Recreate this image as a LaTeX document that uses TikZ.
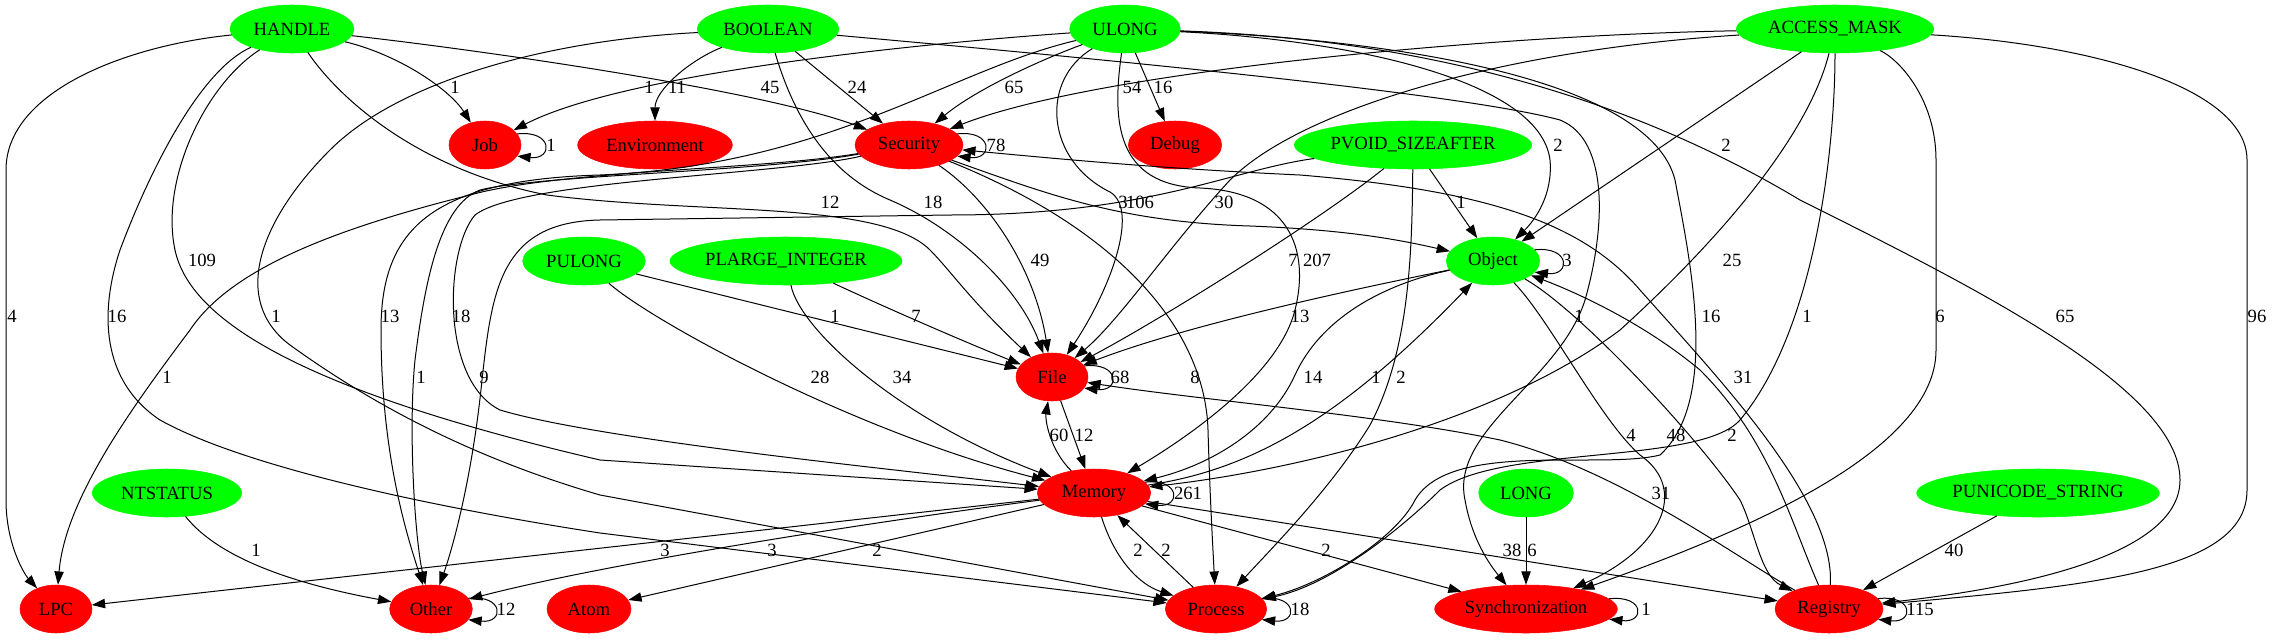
\documentclass[tikz,border=0pt]{standalone}
\usepackage{fontspec}
\setmainfont{Liberation Serif}
\usetikzlibrary{shapes.geometric,arrows.meta}
\definecolor{gvgreen}{RGB}{0,255,0}
\definecolor{gvred}{RGB}{255,0,0}
\begin{document}
\begin{tikzpicture}[x=0.75pt,y=-0.75pt,
  font=\fontsize{14}{16}\selectfont,
  argtype/.style={ellipse,inner sep=0pt,fill=gvgreen,draw=gvgreen,minimum height=36pt,minimum width=#1},
  apicat/.style={ellipse,inner sep=0pt,fill=gvred,draw=gvred,minimum height=36pt,minimum width=#1},
  call/.style={-{Triangle[length=10pt,width=7pt]},line width=0.75pt},
  num/.style={inner sep=0pt}]
\useasboundingbox (0,0) rectangle (2272,639);

%Argument types
\node[argtype=93pt]  (HANDLE)   at (292,29)   {HANDLE};
\node[argtype=106pt] (BOOLEAN)  at (768,29)   {BOOLEAN};
\node[argtype=83pt]  (ULONG)    at (1125,29)  {ULONG};
\node[argtype=148pt] (ACCESS)   at (1835,29)  {ACCESS\_MASK};
\node[argtype=178pt] (PVOID)    at (1413,145) {PVOID\_SIZEAFTER};
\node[argtype=92pt]  (PULONG)   at (584,261)  {PULONG};
\node[argtype=174pt] (PLARGE)   at (786,261)  {PLARGE\_INTEGER};
\node[argtype=70pt]  (Object)   at (1493,261) {Object};
\node[argtype=112pt] (NTSTATUS) at (167,493)  {NTSTATUS};
\node[argtype=71pt]  (LONG)     at (1526,493) {LONG};
\node[argtype=182pt] (PUNICODE) at (2038,493) {PUNICODE\_STRING};

%API groups
\node[apicat=54pt]  (Job)             at (485,145)  {Job};
\node[apicat=116pt] (Environment)     at (655,145)  {Environment};
\node[apicat=81pt]  (Security)        at (909,145)  {Security};
\node[apicat=70pt]  (Debug)           at (1175,145) {Debug};
\node[apicat=54pt]  (File)            at (1052,377) {File};
\node[apicat=85pt]  (Memory)          at (1094,493) {Memory};
\node[apicat=54pt]  (LPC)             at (56,609)   {LPC};
\node[apicat=62pt]  (Other)           at (431,609)  {Other};
\node[apicat=63pt]  (Atom)            at (589,609)  {Atom};
\node[apicat=76pt]  (Process)         at (1216,609) {Process};
\node[apicat=137pt] (Synchronization) at (1526,609) {Synchronization};
\node[apicat=81pt]  (Registry)        at (1829,609) {Registry};

%HANDLE
\draw[call] (HANDLE) .. controls (400,55) and (450,90) .. (Job);
\draw[call] (HANDLE) .. controls (480,50) and (760,90) .. (Security);
\draw[call] (HANDLE) .. controls (130,45) and (6,90) .. (6,170) -- (6,500) .. controls (6,545) and (25,575) .. (LPC);
\draw[call] (HANDLE) .. controls (200,70) and (150,170) .. (120,250) .. controls (100,310) and (100,380) .. (160,420) .. controls (250,470) and (450,510) .. (600,533) -- (Process);
\draw[call] (HANDLE) .. controls (205,85) and (160,180) .. (175,250) .. controls (190,320) and (300,390) .. (600,460) -- (Memory);
\draw[call] (HANDLE) .. controls (340,100) and (420,170) .. (547,195) .. controls (700,215) and (880,200) .. (930,250) .. controls (950,270) and (970,300) .. (File);

%BOOLEAN
\draw[call] (BOOLEAN) .. controls (690,60) and (655,90) .. (Environment);
\draw[call] (BOOLEAN) -- (Security);
\draw[call] (BOOLEAN) .. controls (795,120) and (830,175) .. (890,200) .. controls (960,230) and (1020,290) .. (File);
\draw[call] (BOOLEAN) .. controls (550,40) and (400,80) .. (330,150) .. controls (260,220) and (230,300) .. (290,345) .. controls (380,410) and (480,460) .. (600,495) -- (Process);
\draw[call] (BOOLEAN) .. controls (1000,50) and (1450,90) .. (1560,120) .. controls (1610,140) and (1605,230) .. (1585,300) .. controls (1560,380) and (1450,430) .. (1465,500) .. controls (1472,540) and (1490,565) .. (Synchronization);

%ULONG
\draw[call] (ULONG) .. controls (900,45) and (620,75) .. (Job);
\draw[call] (ULONG) .. controls (1040,60) and (975,90) .. (Security);
\draw[call] (ULONG) -- (Debug);
\draw[call] (ULONG) .. controls (950,70) and (830,165) .. (600,175) .. controls (430,180) and (381,230) .. (381,330) .. controls (381,450) and (405,530) .. (Other);
\draw[call] (ULONG) .. controls (1350,40) and (1540,80) .. (1550,160) .. controls (1553,195) and (1535,220) .. (Object);
\draw[call] (ULONG) .. controls (1400,40) and (1650,80) .. (1675,180) .. controls (1690,260) and (1720,400) .. (1660,455) .. controls (1600,470) and (1450,440) .. (1415,500) .. controls (1395,540) and (1320,585) .. (Process);
\draw[call] (ULONG) .. controls (1450,40) and (1650,110) .. (1800,200) .. controls (1980,290) and (2180,390) .. (2180,480) .. controls (2180,560) and (2000,590) .. (Registry);
\draw[call] (ULONG) .. controls (1112,120) and (1115,185) .. (1200,188) .. controls (1290,192) and (1310,250) .. (1295,310) .. controls (1280,370) and (1200,430) .. (Memory);
\draw[call] (ULONG) .. controls (1040,80) and (1045,160) .. (1110,192) .. controls (1140,210) and (1110,290) .. (File);

%ACCESS_MASK
\draw[call] (ACCESS) .. controls (1500,35) and (1100,70) .. (Security);
\draw[call] (ACCESS) .. controls (1500,50) and (1300,110) .. (1230,180) .. controls (1170,245) and (1120,320) .. (File);
\draw[call] (ACCESS) -- (Object);
\draw[call] (ACCESS) .. controls (1810,130) and (1730,230) .. (1620,330) .. controls (1500,420) and (1300,470) .. (Memory);
\draw[call] (ACCESS) .. controls (1835,150) and (1815,330) .. (1740,420) .. controls (1700,465) and (1500,445) .. (1440,490) .. controls (1400,530) and (1330,585) .. (Process);
\draw[call] (ACCESS) .. controls (1900,60) and (1936,100) .. (1936,160) -- (1936,350) .. controls (1936,450) and (1750,530) .. (Synchronization);
\draw[call] (ACCESS) .. controls (2100,45) and (2247,90) .. (2247,160) -- (2247,490) .. controls (2247,570) and (2100,585) .. (Registry);

%PVOID_SIZEAFTER
\draw[call] (PVOID) -- (Object);
\draw[call] (PVOID) .. controls (1320,220) and (1160,320) .. (File);
\draw[call] (PVOID) .. controls (1412,250) and (1410,350) .. (1370,425) .. controls (1330,490) and (1270,550) .. (Process);
\draw[call] (PVOID) .. controls (1230,170) and (1150,215) .. (950,215) -- (600,220) .. controls (500,222) and (492,290) .. (482,380) .. controls (472,480) and (452,550) .. (Other);

%Security
\draw[call] (Security) .. controls (990,200) and (1035,270) .. (File);
\draw[call] (Security) .. controls (1120,230) and (1205,330) .. (1208,430) .. controls (1210,500) and (1213,550) .. (Process);
\draw[call] (Security) .. controls (1050,195) and (1120,222) .. (1250,226) .. controls (1350,230) and (1400,240) .. (Object);
\draw[call] (Security) .. controls (760,172) and (540,175) .. (480,190) .. controls (440,205) and (425,280) .. (415,360) .. controls (408,430) and (415,540) .. (Other);
\draw[call] (Security) .. controls (780,175) and (520,180) .. (475,215) .. controls (445,250) and (440,380) .. (500,410) .. controls (600,440) and (900,470) .. (Memory);
\draw[call] (Security) .. controls (760,170) and (560,170) .. (470,195) .. controls (330,230) and (230,270) .. (190,330) .. controls (130,410) and (65,500) .. (LPC);

%File, Object, Registry
\draw[call] (File) -- (Memory);
\draw[call] (Memory) .. controls (1050,450) and (1045,420) .. (File);
\draw[call] (Object) .. controls (1400,280) and (1200,320) .. (File);
\draw[call] (Object) .. controls (1380,285) and (1320,320) .. (1295,375) .. controls (1270,430) and (1210,465) .. (Memory);
\draw[call] (Memory) .. controls (1250,470) and (1340,420) .. (Object);
\draw[call] (Object) .. controls (1550,320) and (1600,420) .. (1640,455) .. controls (1690,490) and (1660,550) .. (Synchronization);
\draw[call] (Object) .. controls (1580,310) and (1700,440) .. (1740,500) .. controls (1755,530) and (1760,575) .. (Registry);
\draw[call] (Registry) .. controls (1790,520) and (1770,440) .. (1700,370) .. controls (1640,320) and (1570,290) .. (Object);
\draw[call] (Registry) .. controls (1740,560) and (1620,470) .. (1500,440) .. controls (1380,415) and (1200,400) .. (File);
\draw[call] (Registry) .. controls (1835,500) and (1720,380) .. (1640,290) .. controls (1580,220) and (1480,190) .. (1300,175) .. controls (1150,168) and (1050,158) .. (Security);

%Memory
\draw[call] (Memory) -- (LPC);
\draw[call] (Memory) .. controls (850,525) and (600,565) .. (Other);
\draw[call] (Memory) -- (Atom);
\draw[call] (Memory) .. controls (1115,560) and (1140,585) .. (Process);
\draw[call] (Process) -- (Memory);
\draw[call] (Memory) -- (Synchronization);
\draw[call] (Memory) -- (Registry);

%Other types
\draw[call] (NTSTATUS) .. controls (220,560) and (300,585) .. (Other);
\draw[call] (PULONG) -- (File);
\draw[call] (PULONG) .. controls (650,320) and (850,430) .. (Memory);
\draw[call] (PLARGE) .. controls (880,305) and (960,340) .. (File);
\draw[call] (PLARGE) .. controls (800,330) and (900,420) .. (Memory);
\draw[call] (LONG) -- (Synchronization);
\draw[call] (PUNICODE) -- (Registry);

%Self loops
\foreach \n/\a in {Job/19,Security/13,Object/15,File/19,Memory/12.5,Other/16.6,Process/13.8,Synchronization/7.7,Registry/12.9}
  \draw[call] (\n.\a) .. controls +(36,-4) and +(36,4) .. (\n.-\a);

%Labels
\foreach \x/\y/\t [count=\i] in {455/87/1,649/87/1,677/87/11,770/87/45,857/87/24,1014/87/65,1132/87/54,1163/87/16,
  551/145/1,996/145/78,1558/145/2,1726/145/2,
  830/202/12,933/202/18,1123/202/3,1140/202/106,1224/202/30,1461/202/1,
  202/260/109,1040/260/49,1293/260/7,1317/260/207,1567/260/3,1732/260/25,
  12/316/4,117/316/16,276/316/1,390/316/13,461/316/18,835/316/1,916/316/7,1300/316/13,1579/316/1,1711/316/16,1807/316/1,1940/316/6,2065/316/65,2257/316/96,
  167/377/1,421/377/1,484/377/9,820/377/28,902/377/34,1120/377/68,1195/377/8,1313/377/14,1376/377/1,1401/377/2,1743/377/31,
  1059/435/60,1084/435/12,1631/435/4,1676/435/48,1732/435/2,
  1188/493/261,1661/493/31,
  256/550/1,665/550/3,772/550/3,877/550/2,1138/550/2,1166/550/2,1326/550/2,1512/550/38,1532/550/6,1954/550/40,
  506/609/12,1300/609/18,1646/609/1,1920/609/115}
  \node[num] (lab\i) at (\x,\y) {\t};

\end{tikzpicture}
\end{document}
